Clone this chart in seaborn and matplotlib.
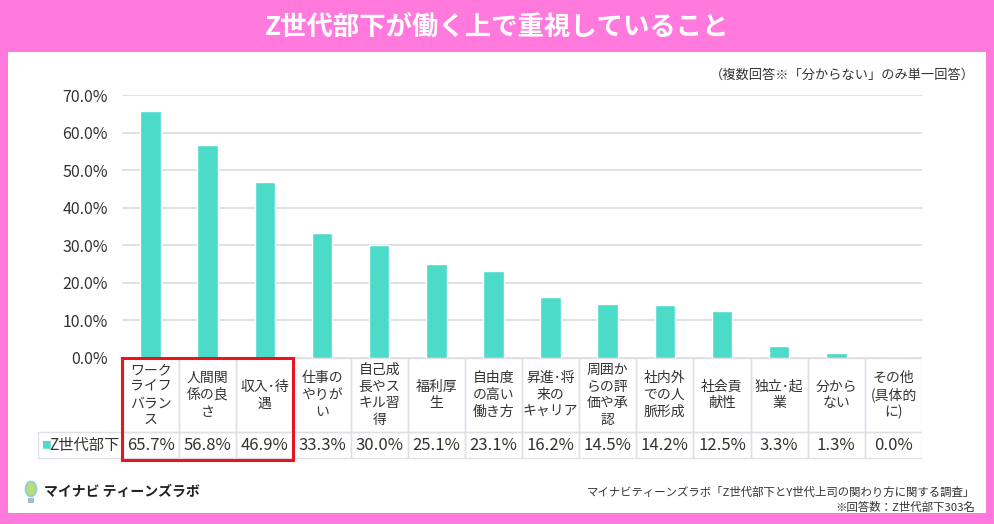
import numpy as np
import pandas as pd
import seaborn as sns
import matplotlib.pyplot as plt
from matplotlib.patches import Rectangle, Ellipse

# chart data
categories = ['ワーク\nライフ\nバラン\nス', '人間関\n係の良\nさ', '収入･待\n遇', '仕事の\nやりが\nい',
              '自己成\n長やス\nキル習\n得', '福利厚\n生', '自由度\nの高い\n働き方', '昇進･将\n来の\nキャリア',
              '周囲か\nらの評\n価や承\n認', '社内外\nでの人\n脈形成', '社会貢\n献性', '独立･起\n業',
              '分から\nない', 'その他\n(具体的\nに)']
values = [65.7, 56.8, 46.9, 33.3, 30.0, 25.1, 23.1, 16.2, 14.5, 14.2, 12.5, 3.3, 1.3, 0.0]
series_name = 'Z世代部下'
yticks = [0, 10, 20, 30, 40, 50, 60, 70]

title = 'Z世代部下が働く上で重視していること'
note = '（複数回答※「分からない」のみ単一回答）'
source1 = 'マイナビティーンズラボ「Z世代部下とY世代上司の関わり方に関する調査」'
source2 = '※回答数：Z世代部下303名'
logo_text = 'マイナビ ティーンズラボ'

PINK = '#FF7ADC'
BAR = '#4DDBC9'
GRID = '#DDDAE0'
CELL = '#E2DDE6'
TXT = '#333333'

sns.set_theme(style='white')
plt.rcParams['font.family'] = ['Noto Sans CJK JP', 'DejaVu Sans']

W, H = 994, 524
fig = plt.figure(figsize=(W / 100, H / 100), dpi=100)
fig.patch.set_facecolor(PINK)

def fx(px):
    return px / W

def fy(py):
    return 1 - py / H

# white panel
fig.patches.append(Rectangle((fx(8), fy(513)), fx(986 - 8), (513 - 52) / H,
                             transform=fig.transFigure, facecolor='white', edgecolor='none', zorder=-5))

fig.text(0.5, fy(27), title, ha='center', va='center', color='white', fontsize=19, fontweight='bold')
fig.text(fx(975), fy(75), note, ha='right', va='center', color=TXT, fontsize=9.5)

# bar chart
left, right, top, base = 122, 922, 95, 358
ax = fig.add_axes([fx(left), fy(base), fx(right - left), (base - top) / H])
df = pd.DataFrame({'cat': range(len(values)), 'val': values})
sns.barplot(data=df, x='cat', y='val', color=BAR, width=0.36, saturation=1, ax=ax, zorder=3)
ax.set_xlim(-0.5, len(values) - 0.5)
ax.set_ylim(0, 70)
ax.set_yticks(yticks)
ax.set_yticklabels([f'{t:.1f}%' for t in yticks], fontsize=11.5, color=TXT)
ax.tick_params(axis='y', length=0, pad=10)
ax.set_xticks([])
ax.set_xlabel('')
ax.set_ylabel('')
for t in yticks:
    ax.axhline(t, color=GRID, lw=1.2, zorder=1)
for s in ax.spines.values():
    s.set_visible(False)
ax.patch.set_alpha(0)

# data table under the bars
col_w = (right - left) / len(values)
t_left = 38
tab = fig.add_axes([fx(t_left), fy(460), fx(right - t_left), (460 - base) / H])
x0 = -0.5 - (left - t_left) / col_w
tab.set_xlim(x0, len(values) - 0.5)
tab.set_ylim(102, 0)
tab.axis('off')
tab.patch.set_alpha(0)
hdr, row = 74, 100
for i, (c, v) in enumerate(zip(categories, values)):
    tab.add_patch(Rectangle((i - 0.5, 0), 1, hdr, facecolor='none', edgecolor=CELL, lw=1))
    tab.add_patch(Rectangle((i - 0.5, hdr), 1, row - hdr, facecolor='none', edgecolor=CELL, lw=1))
    tab.text(i, hdr / 2, c, ha='center', va='center', fontsize=10, color=TXT, linespacing=1.25)
    tab.text(i, (hdr + row) / 2, f'{v:.1f}%', ha='center', va='center', fontsize=12, color=TXT)
tab.add_patch(Rectangle((x0, hdr), -0.5 - x0, row - hdr, facecolor='none', edgecolor=CELL, lw=1))
tab.text(x0 + 0.06, (hdr + row) / 2, '■', ha='left', va='center', fontsize=7, color=BAR)
tab.text(x0 + 0.2, (hdr + row) / 2, series_name, ha='left', va='center', fontsize=11, color=TXT)
# red highlight around the top three
tab.add_patch(Rectangle((-0.5, 0), 3, 102, facecolor='none', edgecolor='#E8141E', lw=2.2,
                        clip_on=False, zorder=5))

# footer
fig.patches.append(Ellipse((fx(31), fy(489)), fx(11), 15 / H, transform=fig.transFigure,
                           facecolor='#B9DD7A', edgecolor='#8CCFE0', lw=1.2, zorder=2))
fig.patches.append(Rectangle((fx(28), fy(503)), fx(6), 5 / H, transform=fig.transFigure,
                             facecolor='#A8B8C8', edgecolor='none', zorder=2))
fig.text(fx(44), fy(492), logo_text, ha='left', va='center', color='#222222',
         fontsize=10, fontweight='bold')
fig.text(fx(975), fy(492), source1, ha='right', va='center', color=TXT, fontsize=8.2)
fig.text(fx(975), fy(507), source2, ha='right', va='center', color=TXT, fontsize=8.2)

fig.savefig('out.png', dpi=100, facecolor=fig.get_facecolor())
